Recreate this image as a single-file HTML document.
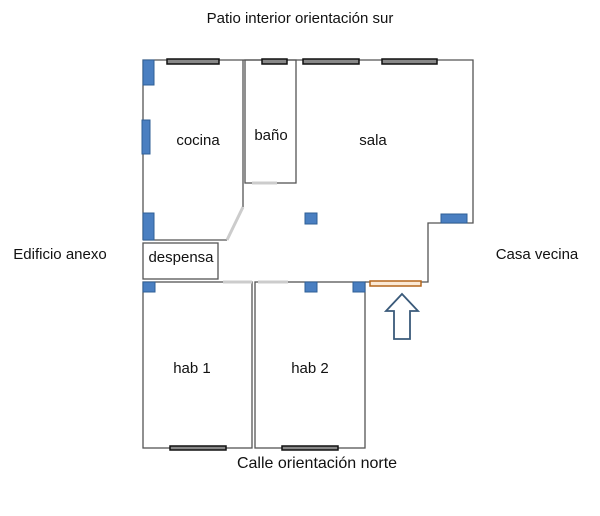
<!DOCTYPE html>
<html><head><style>
body{margin:0;background:#fff;}
svg text{font-family:"Liberation Sans",sans-serif;fill:#111;}
</style></head><body>
<svg width="600" height="511" viewBox="0 0 600 511" xmlns="http://www.w3.org/2000/svg">
<g fill="none" stroke="#555" stroke-width="1.3">
<polyline points="143,240 143,60 473,60 473,223 428,223 428,282 365,282"/>
<polyline points="143,240 227,240"/>
<polyline points="243,60 243,207"/>
<rect x="245" y="60" width="51" height="123"/>
<rect x="143" y="243" width="75" height="36"/>
<rect x="143" y="282" width="109" height="166"/>
<rect x="255" y="282" width="110" height="166"/>
</g>
<g stroke="#ccc" stroke-width="3">
<line x1="243" y1="207" x2="227" y2="240"/>
<line x1="252" y1="183" x2="277" y2="183"/>
<line x1="223" y1="282" x2="252" y2="282"/>
<line x1="258" y1="282" x2="288" y2="282"/>
</g>
<g fill="#888" stroke="#111" stroke-width="1.5">
<rect x="167" y="59" width="52" height="5"/>
<rect x="262" y="59" width="25" height="5"/>
<rect x="303" y="59" width="56" height="5"/>
<rect x="382" y="59" width="55" height="5"/>
<rect x="170" y="446" width="56" height="4"/>
<rect x="282" y="446" width="56" height="4"/>
</g>
<rect x="370" y="281" width="51" height="5" fill="#fbe9d6" stroke="#b5671d" stroke-width="1.5"/>
<g fill="#4a7fc1" stroke="#2f5f96" stroke-width="1">
<rect x="143" y="60" width="11" height="25"/>
<rect x="142" y="120" width="8" height="34"/>
<rect x="143" y="213" width="11" height="27"/>
<rect x="143" y="282" width="12" height="10"/>
<rect x="305" y="282" width="12" height="10"/>
<rect x="353" y="282" width="12" height="10"/>
<rect x="305" y="213" width="12" height="11"/>
<rect x="441" y="214" width="26" height="9"/>
</g>
<polygon points="402,294 418,311 410,311 410,339 394,339 394,311 386,311" fill="#fff" stroke="#3a5a7a" stroke-width="1.8"/>
<g font-size="15">
<text x="300" y="23" text-anchor="middle">Patio interior orientación sur</text>
<text x="198" y="145" text-anchor="middle">cocina</text>
<text x="271" y="140" text-anchor="middle">baño</text>
<text x="373" y="145" text-anchor="middle">sala</text>
<text x="181" y="262" text-anchor="middle">despensa</text>
<text x="60" y="259" text-anchor="middle">Edificio anexo</text>
<text x="537" y="259" text-anchor="middle">Casa vecina</text>
<text x="192" y="373" text-anchor="middle">hab 1</text>
<text x="310" y="373" text-anchor="middle">hab 2</text>
<text x="317" y="468" text-anchor="middle" font-size="16">Calle orientación norte</text>
</g>
</svg>
</body></html>
